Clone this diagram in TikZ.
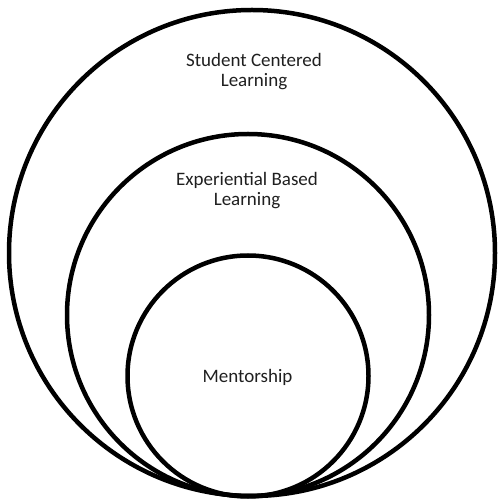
\documentclass[tikz,border=0pt]{standalone}
\usepackage{fontspec}
\setmainfont{Carlito}
\usetikzlibrary{
  shapes
}
\tikzset{
  ring/.style={draw=black, line width=4.5pt, circle, inner sep=0pt},
  lbl/.style={text=black!88, font=\fontsize{19}{20}\selectfont, align=center}
}

\begin{document}
\begin{tikzpicture}[x=1pt, y=1pt]
  \def\Xo{252};
  \def\Xm{248};
  \def\Yo{248};
  \def\Ym{186};
  \def\Yi{125};
        \useasboundingbox (0, 0) rectangle (499, 501);

        \node[ring, minimum size=486pt] (outer) at (\Xo, \Yo) {};
        \node[ring, minimum size=362pt] (middle) at (\Xm, \Ym) {};
        \node[ring, minimum size=241pt] (inner) at (\Xm, \Yi) {};

        \node[lbl] (student) at (254, 429) {Student Centered\\Learning};
        \node[lbl] (experiential) at (247, 310) {Experiential Based\\Learning};
        \node[lbl] (mentor) at (247.5, 124) {Mentorship};
\end{tikzpicture}
\end{document}
